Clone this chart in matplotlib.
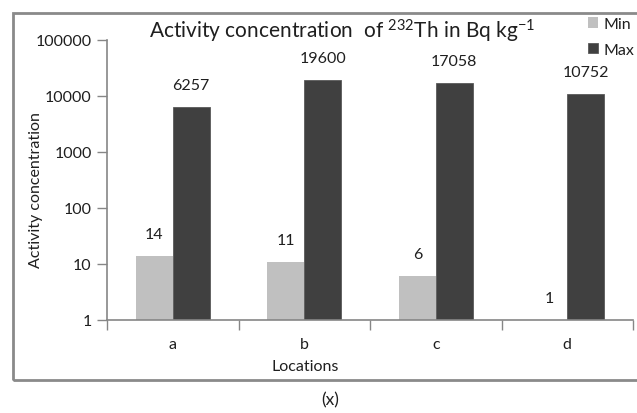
import matplotlib
matplotlib.use("Agg")
import matplotlib.pyplot as plt
import numpy as np
from matplotlib.patches import Rectangle

plt.rcParams['font.family'] = ['Lato', 'DejaVu Sans']
plt.rcParams['mathtext.fontset'] = 'custom'
plt.rcParams['mathtext.rm'] = 'Lato'
plt.rcParams['mathtext.it'] = 'Lato:italic'

categories = ['a', 'b', 'c', 'd']
min_vals = [14, 11, 6, 1]
max_vals = [6257, 19600, 17058, 10752]
series_names = ['Min', 'Max']
yticks = [1, 10, 100, 1000, 10000, 100000]

W, H = 637, 414
fig = plt.figure(figsize=(W/100, H/100), dpi=100)
ax = fig.add_axes([107/W, 1-321/H, (633-107)/W, (321-41)/H])

axis_col = '#868686'
text_col = '#1f1f1f'
fs = 11.5
x = np.arange(len(categories))
bw = 0.28
b1 = ax.bar(x - bw/2, min_vals, bw, color='#c0c0c0', label=series_names[0], zorder=2)
b2 = ax.bar(x + bw/2, max_vals, bw, color='#404040', edgecolor='#595959', linewidth=0.6,
            label=series_names[1], zorder=2)

ax.set_yscale('log')
ax.set_ylim(1, 100000)
ax.set_xlim(-0.5, len(categories)-0.5)
ax.set_yticks(yticks)
ax.set_yticklabels([str(v) for v in yticks])
ax.minorticks_off()
ax.set_xticks(np.arange(-0.5, len(categories), 1.0))
ax.set_xticklabels([])
ax.tick_params(axis='x', length=7, color=axis_col, width=1)
ax.tick_params(axis='y', length=7, color=axis_col, width=1, labelsize=fs, labelcolor=text_col, pad=4)
for i, c in enumerate(categories):
    ax.text(i, -0.085, c, transform=ax.get_xaxis_transform(), ha='center', va='center',
            fontsize=fs, color=text_col)

for s in ['top', 'right']:
    ax.spines[s].set_visible(False)
for s in ['left', 'bottom']:
    ax.spines[s].set_color(axis_col)
    ax.spines[s].set_linewidth(1.2)

for bars, vals in [(b1, min_vals), (b2, max_vals)]:
    for r, v in zip(bars, vals):
        ax.annotate(str(v), (r.get_x() + r.get_width()/2, v), xytext=(0, 22),
                    textcoords='offset pixels', ha='center', va='center',
                    fontsize=fs, color=text_col)

fig.text(36/W, 1-190/H, 'Activity concentration', rotation=90, ha='center', va='center',
         fontsize=fs, color=text_col)
fig.text(305/W, 1-367/H, 'Locations', ha='center', va='center', fontsize=fs, color=text_col)
fig.text(342/W, 1-31/H, r'Activity concentration  of $^{232}$Th in Bq kg$^{-1}$',
         ha='center', va='center', fontsize=15, color=text_col)
fig.text(330/W, 1-400/H, '(x)', ha='center', va='center', fontsize=12.5, color=text_col)

leg = fig.legend(handles=[b1, b2], labels=series_names, loc='center left',
                 bbox_to_anchor=(580/W, 1-38/H), frameon=False, fontsize=fs,
                 handlelength=0.65, handleheight=0.65, handletextpad=0.35, labelspacing=0.7,
                 borderpad=0, labelcolor=text_col)

fig.patches.append(Rectangle((13/W, 1-381/H), (640-13)/W, (381-14)/H, transform=fig.transFigure,
                             fill=False, edgecolor='#8a8a8a', linewidth=2))

fig.savefig('out.png', dpi=100)
